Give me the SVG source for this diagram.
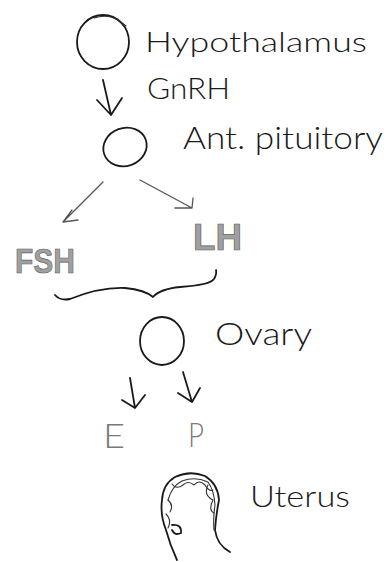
<svg xmlns="http://www.w3.org/2000/svg" width="390" height="562" viewBox="0 0 390 562">
  <style>
    .ink { fill: none; stroke: #1a1a1a; stroke-width: 1.8; stroke-linecap: round; stroke-linejoin: round; }
    .thin { fill: none; stroke: #333; stroke-width: 1.1; stroke-linecap: round; stroke-linejoin: round; }
    .pencil { fill: none; stroke: #555; stroke-width: 1.3; stroke-linecap: round; stroke-linejoin: round; }
    .label { font-family: Lato, "Liberation Sans", sans-serif; font-weight: 300; fill: #1a1a1a; }
    .shade { font-family: "Liberation Sans", Arial, sans-serif; font-weight: bold; fill: #a0a0a0; stroke: #666; stroke-width: 0.7; }
    .faint { font-family: Lato, "Liberation Sans", sans-serif; font-weight: 300; fill: #7a7a7a; }
  </style>
  <rect width="390" height="562" fill="#ffffff"/>

  <!-- Hypothalamus -->
  <g id="hypothalamus">
    <ellipse class="ink" cx="103" cy="42" rx="26" ry="27" stroke-width="2.4"/>
    <path class="thin" d="M94 18 Q112 12 126 26"/>
    <text class="label" x="145" y="52" font-size="28" textLength="222" lengthAdjust="spacingAndGlyphs">Hypothalamus</text>
  </g>

  <!-- GnRH label -->
  <g id="gnrh">
    <text class="label" x="147" y="99" font-size="29" textLength="83" lengthAdjust="spacingAndGlyphs">GnRH</text>
  </g>

  <!-- Anterior pituitary -->
  <g id="ant-pituitary">
    <ellipse class="ink" cx="125" cy="147" rx="22" ry="19" transform="rotate(-20 125 147)"/>
    <text class="label" x="183" y="149" font-size="31" textLength="200" lengthAdjust="spacingAndGlyphs">Ant. pituitory</text>
  </g>

  <!-- FSH and LH -->
  <g id="fsh">
    <text class="shade" x="15" y="273" font-size="35" textLength="60" lengthAdjust="spacingAndGlyphs">FSH</text>
  </g>
  <g id="lh">
    <text class="shade" x="193" y="250" font-size="36" textLength="49" lengthAdjust="spacingAndGlyphs">LH</text>
  </g>

  <!-- Ovary -->
  <g id="ovary">
    <ellipse class="ink" cx="162" cy="341" rx="22" ry="24" stroke-width="1.6"/>
    <text class="label" x="215" y="345" font-size="32" textLength="97" lengthAdjust="spacingAndGlyphs">Ovary</text>
  </g>

  <!-- E and P -->
  <g id="estrogen">
    <text class="faint" x="103" y="448" font-size="33" textLength="22" lengthAdjust="spacingAndGlyphs">E</text>
  </g>
  <g id="progesterone">
    <text class="faint" x="188" y="447" font-size="33" textLength="16" lengthAdjust="spacingAndGlyphs">P</text>
  </g>

  <!-- Uterus -->
  <g id="uterus">
    <path class="ink" stroke-width="1.5" d="M177 560 Q170 545 166 530 Q160 515 162 500 Q163 484 175 477 Q190 470 205 476 Q218 484 219 500 Q216 515 215 530 Q217 545 230 552"/>
    <path class="thin" d="M168 500 Q172 486 182 481 Q195 476 208 482 Q214 490 215 505 Q213 518 214 530"/>
    <path class="thin" d="M172 484 Q176 490 183 485 Q188 480 194 485 Q199 479 205 485 Q209 492 213 490 M208 485 Q203 495 213 500 M213 500 Q208 510 214 513 M168 500 Q174 505 170 512 M166 514 Q172 520 168 528"/>
    <path class="ink" stroke-width="1.3" d="M172 525 Q182 524 181 533 Q175 536 172 530"/>
    <text class="label" x="250" y="507" font-size="30" textLength="100" lengthAdjust="spacingAndGlyphs">Uterus</text>
  </g>

  <!-- Connectors -->
  <g id="connectors">
    <!-- hypothalamus to pituitary -->
    <path class="ink" d="M103 80 L111 115 M97 100 L111 115 L122 98"/>
    <!-- pituitary to FSH -->
    <path class="pencil" d="M103 182 L63 222 M72 210 L63 222 L78 220"/>
    <!-- pituitary to LH -->
    <path class="pencil" d="M140 180 L192 208 M193 198 L192 208 L175 208"/>
    <!-- brace joining FSH and LH -->
    <path class="ink" stroke-width="1.4" d="M55 295 Q60 301 70 299 Q100 287 125 288 Q145 290 153 297 Q160 289 180 287 Q210 285 214 279 Q217 274 216 270"/>
    <!-- ovary to E and P -->
    <path class="ink" stroke-width="1.6" d="M130 378 L135 408 M122 400 L135 408 L145 395"/>
    <path class="ink" stroke-width="1.6" d="M183 372 L192 402 M178 393 L192 402 L200 388"/>
  </g>
</svg>
